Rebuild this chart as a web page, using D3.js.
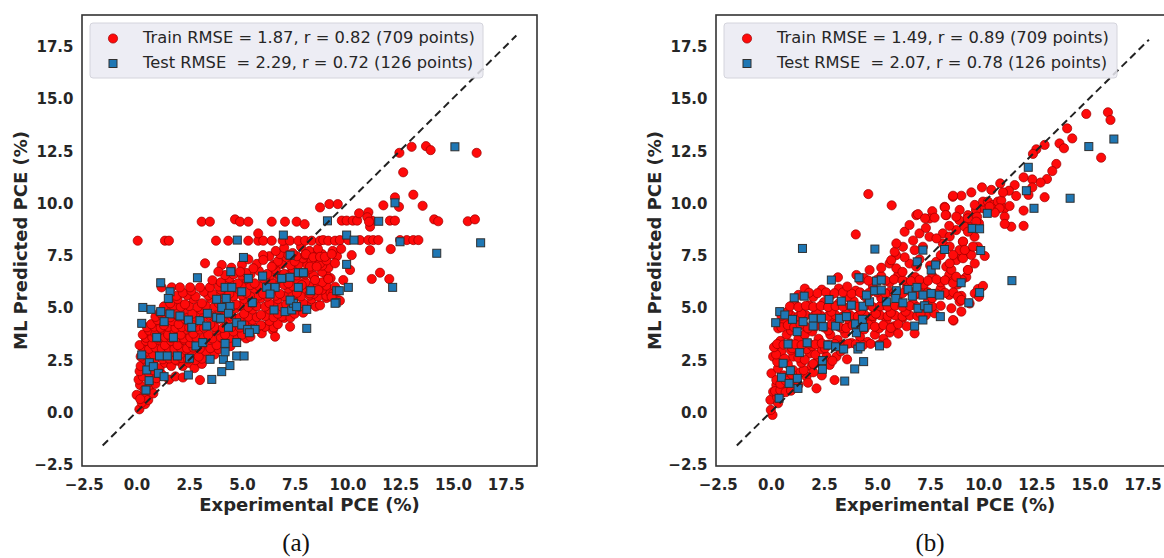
<!DOCTYPE html>
<html>
<head>
<meta charset="utf-8">
<script src="https://cdn.jsdelivr.net/npm/d3@7"></script>
<style>
  html, body { margin: 0; padding: 0; background: #fff; }
  svg { display: block; font-family: "DejaVu Sans", sans-serif; }
  .leg { white-space: pre; }
</style>
</head>
<body>
<svg id="fig" width="1164" height="558"></svg>
<script>
// Tick values shared by both axes of both panels
const ticks = [-2.5, 0, 2.5, 5, 7.5, 10, 12.5, 15, 17.5];
const axisDomain = [-2.58, 18.98];

// Ideal y = x reference segments
const diagA = [-1.6, 18.0];
const diagB = [-1.6, 17.8];

const legendA = ["Train RMSE = 1.87, r = 0.82 (709 points)", "Test RMSE  = 2.29, r = 0.72 (126 points)"];
const legendB = ["Train RMSE = 1.49, r = 0.89 (709 points)", "Test RMSE  = 2.07, r = 0.78 (126 points)"];

const xLabel = "Experimental PCE (%)";
const yLabel = "ML Predicted PCE (%)";
const captions = ["(a)", "(b)"];

// Model (a): [experimental, predicted]
const trainA = [
  [0.14,0.13],[0.41,0.38],[0.25,0.45],[0.01,0.82],[0.33,0.74],[0.56,0.58],[0.18,0.62],[0.70,0.95],
  [0.17,1.29],[0.56,1.13],[0.80,0.89],[0.38,1.05],[0.90,1.35],[0.10,1.55],[0.60,1.45],
  [0.30,1.70],[0.60,1.85],[0.95,1.62],[1.20,1.80],[1.55,1.55],[0.15,1.95],[0.80,2.00],[1.85,1.70],[3.01,1.53],[2.20,1.65],
  [0.20,2.20],[0.50,2.40],[0.80,2.30],[1.10,2.10],[1.35,2.35],[1.65,2.20],[1.95,2.45],[2.20,2.20],[2.50,2.35],[2.75,2.10],[3.10,2.30],
  [0.35,2.55],[0.65,2.50],[0.95,2.58],[1.25,2.52],[1.55,2.56],[1.85,2.50],[2.15,2.58],[2.45,2.52],[2.80,2.48],[3.10,2.55],
  [0.20,2.65],[0.45,2.90],[0.80,2.75],[1.10,2.95],[1.40,2.80],[1.75,2.95],[2.05,2.75],[2.35,2.95],[2.65,2.80],[2.95,2.65],[3.30,2.90],[3.70,2.75],
  [0.30,3.05],[0.60,3.02],[0.90,3.08],[1.20,3.03],[1.50,3.07],[1.80,3.02],[2.10,3.06],[2.40,3.04],[2.70,3.08],[3.00,3.03],[3.50,3.05],[3.90,3.00],
  [0.15,3.20],[0.45,3.40],[0.75,3.25],[1.05,3.45],[1.35,3.20],[1.65,3.40],[1.95,3.20],[2.25,3.45],[2.55,3.30],[3.45,3.45],[3.80,3.20],[4.10,3.50],[4.45,3.15],
  [0.45,3.55],[0.75,3.57],[1.05,3.53],[1.35,3.58],[1.65,3.54],[1.95,3.57],[2.25,3.52],[2.55,3.58],[2.85,3.54],[3.20,3.56],[3.60,3.52],[4.00,3.58],[4.40,3.54],[4.80,3.56],[5.20,3.52],
  [0.30,3.70],[0.60,3.90],[0.90,3.75],[1.20,3.95],[1.50,3.70],[1.80,3.90],[2.10,3.70],[2.40,3.95],[2.70,3.75],[3.00,3.95],[3.40,3.70],[3.80,3.90],[4.20,3.70],[4.60,3.85],[5.00,3.70],[5.40,3.60],[5.94,3.76],[6.46,3.92],[6.57,3.60],
  [0.50,4.05],[0.85,4.08],[1.15,4.03],[1.50,4.07],[1.85,4.02],[2.15,4.06],[2.50,4.04],[2.85,4.08],[3.20,4.03],[3.70,4.07],[4.10,4.02],[4.50,4.06],[4.90,4.04],[5.30,4.08],[5.70,4.03],[6.10,4.07],[6.50,4.04],
  [0.70,4.20],[1.00,4.40],[1.30,4.15],[1.70,4.35],[2.00,4.20],[2.30,4.45],[2.70,4.25],[3.50,4.20],[3.90,4.45],[4.30,4.20],[4.70,4.45],[5.10,4.20],[5.50,4.40],[5.90,4.15],[6.30,4.35],[6.70,4.20],[7.28,4.08],[7.00,4.50],
  [0.90,4.55],[1.25,4.58],[1.60,4.53],[2.00,4.57],[2.40,4.52],[2.80,4.56],[3.20,4.54],[3.65,4.58],[4.10,4.53],[4.50,4.57],[4.90,4.52],[5.30,4.56],[5.70,4.54],[6.10,4.58],[6.50,4.53],[6.90,4.57],[7.30,4.52],
  [1.10,4.75],[1.45,4.95],[1.85,4.70],[2.25,4.90],[2.65,4.70],[3.05,4.90],[3.45,4.65],[3.90,4.90],[4.30,4.70],[4.70,4.95],[5.10,4.70],[5.50,4.90],[5.90,4.65],[6.30,4.90],[6.70,4.70],[7.10,4.95],[7.50,4.70],[7.90,4.75],
  [1.30,5.05],[1.75,5.08],[2.10,5.03],[2.50,5.07],[2.90,5.02],[3.30,5.06],[3.70,5.04],[4.10,5.08],[4.50,5.03],[4.90,5.07],[5.30,5.02],[5.70,5.06],[6.10,5.04],[6.50,5.08],[6.90,5.03],[7.30,5.07],[7.70,5.02],[8.10,5.06],[8.50,5.04],
  [1.60,5.20],[1.95,5.40],[2.30,5.15],[2.70,5.40],[3.10,5.20],[3.50,5.45],[3.90,5.20],[4.30,5.40],[4.70,5.15],[5.10,5.40],[5.50,5.20],[5.90,5.45],[6.30,5.20],[6.70,5.40],[7.10,5.15],[7.50,5.45],[7.90,5.20],[8.30,5.40],[8.70,5.10],[9.00,5.45],
  [1.90,5.55],[2.40,5.58],[2.80,5.53],[3.40,5.57],[3.80,5.52],[4.20,5.56],[4.60,5.54],[5.00,5.58],[5.40,5.53],[5.80,5.57],[6.20,5.52],[6.60,5.56],[7.00,5.54],[7.40,5.58],[7.80,5.53],[8.20,5.57],[8.60,5.52],[9.00,5.56],
  [2.20,5.70],[2.60,5.80],[3.20,5.75],[3.60,5.65],[4.00,5.85],[4.40,5.65],[4.80,5.90],[5.20,5.70],[5.60,5.90],[6.00,5.65],[6.40,5.85],[6.80,5.65],[7.20,5.90],[7.60,5.70],[8.00,5.90],[8.40,5.65],[8.80,5.85],[9.20,5.70],
  [1.19,5.96],[1.67,5.96],[2.06,5.96],[2.54,5.96],[3.01,5.96],[3.48,5.96],[3.90,6.00],
  [4.20,6.05],[4.60,6.08],[5.00,6.03],[5.40,6.07],[5.80,6.02],[6.20,6.06],[6.60,6.04],[7.00,6.08],[7.40,6.03],[7.80,6.07],[8.20,6.02],[8.60,6.06],[9.00,6.04],
  [3.60,6.30],[4.00,6.20],[4.40,6.40],[4.80,6.15],[5.20,6.35],[5.60,6.15],[6.00,6.40],[6.40,6.20],[6.80,6.40],[7.20,6.15],[7.60,6.35],[8.00,6.20],[8.40,6.45],[8.80,6.20],[9.20,6.40],
  [4.20,6.55],[4.60,6.58],[5.00,6.53],[5.40,6.57],[6.00,6.52],[6.40,6.56],[6.80,6.54],[7.20,6.58],[7.60,6.53],[8.00,6.57],[8.40,6.52],[9.00,6.56],
  [4.50,6.90],[5.20,6.65],[5.80,6.75],[6.20,6.60],[6.60,6.80],[7.00,6.60],[7.40,6.85],[7.80,6.65],[8.20,6.85],[8.80,6.70],[9.10,6.90],
  [5.00,7.05],[5.70,7.08],[6.50,7.03],[6.90,7.07],[7.30,7.02],[7.70,7.06],[8.10,7.04],[8.50,7.08],[8.80,7.00],
  [5.30,7.30],[6.30,7.45],[6.70,7.20],[7.10,7.40],[7.50,7.20],[7.90,7.35],[8.30,7.20],[8.70,7.10],[9.00,7.25],
  [6.00,7.50],[6.80,7.55],[7.20,7.50],[7.60,7.45],[8.00,7.52],[8.40,7.48],[8.80,7.55],[9.50,7.45],
  [6.60,7.70],[7.00,7.85],[7.40,7.60],[7.80,7.90],[8.20,7.70],[8.60,7.80],[9.30,7.70],[9.70,7.80],
  [3.25,7.11],[4.04,7.03],[3.88,6.71],[4.91,6.71],[5.54,6.87],[6.01,7.27],[6.41,6.95],
  [10.20,7.50],[11.07,7.74],[12.05,7.79],[11.15,6.36],[11.54,6.66],[11.98,6.36],[9.41,7.11],[10.12,6.79],[9.80,6.31],[9.09,6.36],
  [8.03,7.55],[8.38,7.40],[8.70,7.42],[8.93,7.42],[9.25,7.55],[8.22,6.95],[8.54,6.95],[7.94,6.63],[8.46,6.31],[7.83,6.07],[8.22,5.67],[8.62,5.83],[9.33,5.67],[9.56,5.35],[9.25,5.51],[9.64,5.32],[9.41,5.99],
  [0.06,8.19],[1.35,8.19],[1.54,8.19],[3.77,8.19],[4.35,8.19],[5.30,8.19],[5.77,8.19],[6.01,8.19],[6.41,8.19],[6.93,8.19],[7.27,8.19],[7.67,8.19],[7.99,8.19],[8.30,8.19],[8.70,8.19],[8.85,8.22],[9.09,8.19],[9.41,8.19],[9.64,8.22],[10.04,8.22],[10.59,8.22],[10.99,8.22],[11.22,8.22],[11.46,8.22],[12.49,8.22],[12.81,8.22],[13.12,8.22],[13.36,8.22],[5.77,8.54],
  [3.09,9.10],[3.48,9.10],[4.67,9.21],[4.91,9.10],[5.30,9.10],[6.41,9.10],[7.04,9.10],[7.59,9.10],[7.97,8.98],
  [9.73,9.15],[9.96,9.15],[10.25,9.15],[10.46,9.15],[11.15,9.15],[12.01,9.15],[12.25,9.15],
  [8.70,9.78],[9.14,9.94],[9.54,9.94],
  [10.55,9.50],[10.99,9.55],[10.94,9.31],[11.07,8.86],[11.02,9.10],
  [14.11,9.21],[14.30,9.12],[15.70,9.12],[16.04,9.21],
  [11.70,9.88],[12.44,9.81],[13.56,9.86],[12.25,10.26],[13.12,10.39],[12.64,11.46],
  [12.46,12.39],[13.04,12.68],[13.72,12.71],[13.94,12.52],[16.12,12.39]
];

const testA = [
  [1.15,6.18],[1.59,5.75],[1.51,5.43],[2.89,6.42],[0.30,5.00],[0.69,4.91],[0.25,4.24],[1.15,4.80],[1.59,4.69],[2.06,4.59],
  [1.31,4.32],[2.46,4.40],[2.62,4.05],[3.01,4.37],[3.33,4.11],[0.96,3.57],[1.75,3.57],[2.82,3.16],[3.14,3.32],[0.25,2.73],
  [0.61,2.36],[1.09,2.68],[1.46,2.68],[1.94,2.68],[2.51,2.57],[0.49,2.01],[0.80,2.17],[1.04,1.85],[1.31,1.69],[2.46,1.77],
  [0.60,1.50],[0.45,1.05],[3.57,1.56],[3.49,2.52],[4.04,1.93],[4.12,2.52],[4.20,2.88],[4.43,2.22],[4.75,2.68],[5.10,2.68],
  [4.20,3.28],[4.75,3.32],[3.80,5.39],[4.25,5.43],[4.43,5.04],[4.04,5.00],[3.80,4.53],[3.99,4.48],[4.36,4.72],[4.36,4.05],
  [4.75,4.27],[3.36,4.72],[4.20,5.96],[4.52,5.96],[4.99,5.75],[5.30,6.39],[4.47,6.71],[5.07,7.39],[4.78,8.22],[4.99,4.16],
  [5.27,3.95],[5.62,3.95],[5.35,3.79],[5.49,5.23],[5.98,6.50],[6.17,5.96],[6.57,5.96],[6.33,5.64],[6.52,4.88],[7.04,4.80],
  [7.36,4.88],[7.44,5.20],[7.28,5.35],[7.59,5.04],[6.88,6.39],[7.28,6.44],[6.96,8.46],[7.28,7.50],[7.67,6.66],[7.91,6.66],
  [7.67,5.96],[8.07,4.91],[8.07,4.00],[8.26,5.80],[9.05,9.14],[9.49,5.80],[9.46,5.23],
  [15.09,12.68],[12.25,10.00],[11.48,9.12],[9.96,8.46],[10.31,8.22],[12.49,8.14],[16.31,8.09],[14.23,7.59],[9.96,7.06],
  [10.04,5.96],[9.61,5.80],[12.14,5.96],[9.41,5.20]
];

// Model (b): [experimental, predicted]
const trainB = [
  [0.08,-0.14],[0.00,0.10],[-0.02,0.58],[0.34,0.42],[0.11,0.97],[0.50,0.90],[0.26,1.29],[0.66,1.21],[0.30,0.70],
  [0.20,1.00],[0.45,1.05],[0.70,0.95],[0.95,1.02],
  [0.03,1.85],[0.34,2.09],[1.05,2.01],[1.20,1.45],[1.68,1.69],[1.91,2.17],[0.26,1.53],[0.60,1.75],[0.85,1.60],[1.40,1.90],[2.15,1.13],[3.00,1.53],[2.40,1.75],
  [0.45,1.35],[0.70,1.50],[1.00,1.80],[1.30,1.30],[1.55,2.00],[1.75,1.40],[2.00,1.90],
  [0.11,2.65],[0.50,2.89],[1.05,2.65],[1.44,2.36],[1.83,2.80],[2.22,2.49],[2.62,2.65],[1.68,3.00],[2.77,2.25],[3.09,2.65],[3.59,2.52],[0.30,2.40],[0.80,2.30],[1.25,2.95],[2.00,2.30],
  [0.25,2.75],[0.65,2.55],[0.95,2.95],[1.30,2.60],[1.60,2.50],[2.10,2.75],[2.40,3.00],[2.90,2.45],[3.30,2.90],
  [0.15,3.10],[0.45,3.40],[0.75,3.70],[1.00,3.05],[1.30,3.50],[1.60,3.70],[1.95,3.15],[2.25,3.50],[2.55,3.05],[2.80,3.70],[3.15,3.45],[3.50,3.75],[3.80,3.30],[4.20,3.60],[4.55,3.35],[4.90,3.70],[5.30,3.50],[5.60,3.80],
  [0.30,3.25],[0.60,3.22],[0.90,3.28],[1.15,3.24],[1.45,3.20],[1.80,3.27],[2.10,3.23],[2.40,3.28],[2.70,3.22],[3.00,3.26],[3.35,3.21],[3.65,3.27],[4.00,3.24],[4.35,3.20],[4.70,3.26],[5.10,3.22],[5.45,3.28],
  [0.35,4.00],[0.65,4.30],[0.95,3.90],[1.25,4.50],[1.60,4.10],[1.95,3.85],[2.30,4.25],[2.70,3.90],[3.00,4.50],[3.35,4.00],[3.70,4.35],[4.05,4.55],[4.40,3.95],[4.75,4.45],[5.10,4.00],[5.45,4.40],[5.80,4.10],[6.20,4.50],[6.00,3.75],[6.77,3.76],
  [0.50,4.05],[0.80,4.15],[1.10,4.05],[1.40,4.20],[1.75,4.00],[2.10,4.10],[2.50,4.05],[2.85,4.18],[3.20,4.08],[3.55,4.02],[3.85,4.15],[4.20,4.05],[4.60,4.18],[4.90,4.08],[5.30,4.15],[5.65,4.02],[6.00,4.20],[6.40,4.10],
  [0.50,4.60],[0.95,4.62],[1.30,4.58],[1.65,4.63],[2.00,4.57],[2.35,4.61],[2.70,4.59],[3.05,4.63],[3.40,4.58],[3.75,4.62],[4.10,4.57],[4.45,4.61],[4.80,4.59],[5.15,4.63],[5.50,4.58],[5.85,4.62],[6.20,4.57],[6.55,4.61],[6.90,4.59],[7.30,4.63],
  [0.80,4.80],[1.10,5.20],[1.45,4.70],[1.80,5.10],[2.15,4.75],[2.50,5.25],[2.85,4.80],[3.20,5.20],[3.55,4.70],[3.90,5.30],[4.25,4.85],[4.60,5.25],[4.95,4.70],[5.30,5.10],[5.65,4.75],[6.00,5.25],[6.35,4.80],[6.70,5.20],[7.05,4.70],[7.40,5.30],[7.71,4.72],[8.60,4.37],
  [0.90,5.05],[1.30,5.02],[1.65,5.08],[2.00,5.03],[2.35,5.07],[2.70,5.02],[3.05,5.06],[3.40,5.04],[3.75,5.08],[4.10,5.03],[4.45,5.07],[4.80,5.02],[5.15,5.06],[5.50,5.04],[5.85,5.08],[6.20,5.03],[6.55,5.07],[6.90,5.02],[7.25,5.06],[7.60,5.04],[8.00,5.08],
  [1.30,5.60],[1.60,5.90],[2.00,5.50],[2.40,5.85],[2.80,5.55],[3.20,5.90],[3.60,5.50],[4.00,5.80],[4.40,5.55],[4.80,5.90],[5.20,5.45],[5.60,5.75],[6.00,5.55],[6.40,5.95],[6.80,5.60],[7.20,5.85],[7.60,5.45],[8.00,5.90],[8.40,5.60],
  [1.80,5.70],[2.20,5.68],[2.60,5.72],[3.00,5.68],[3.40,5.72],[3.80,5.66],[4.20,5.72],[4.60,5.68],[5.00,5.72],[5.40,5.66],[5.80,5.70],[6.20,5.68],[6.60,5.74],[7.00,5.68],[7.40,5.72],[7.80,5.66],[8.20,5.70],[8.60,5.72],
  [3.16,6.44],[3.60,6.00],[4.03,6.55],[4.40,6.40],[4.80,6.10],[5.20,6.50],[5.60,6.20],[6.00,6.55],[6.40,6.20],[6.80,6.45],[7.20,6.10],[7.60,6.50],[8.00,6.20],[8.40,6.55],[8.80,6.10],[9.20,6.45],
  [4.20,6.30],[4.60,6.28],[5.00,6.32],[5.40,6.28],[5.80,6.34],[6.20,6.30],[6.60,6.26],[7.00,6.32],[7.40,6.28],[7.80,6.34],[8.20,6.30],[8.60,6.28],[9.00,6.32],
  [4.65,6.79],[5.59,7.10],[5.91,6.87],[6.53,7.10],[6.85,6.95],[7.79,7.18],[8.26,6.95],[8.73,7.26],[9.28,6.79],
  [5.20,6.90],[6.20,6.70],[7.00,7.30],[7.50,7.00],[8.00,7.50],[8.50,6.80],[9.00,7.40],[9.60,7.10],[6.30,7.40],[5.90,7.50],
  [5.67,7.26],[5.83,7.66],[6.22,7.90],[6.77,7.74],[7.16,7.90],[8.10,8.06],[8.88,7.74],[9.36,7.58],[9.75,7.90],
  [5.91,8.06],[6.30,8.62],[7.00,8.54],[7.47,8.38],[8.10,8.54],[8.73,8.70],[9.04,8.14],[9.59,8.38],
  [6.70,8.20],[7.30,8.80],[7.80,8.30],[8.40,8.90],[9.30,8.90],[7.60,9.60],
  [6.53,8.94],[6.85,9.41],[7.47,9.25],[8.18,9.81],[8.26,9.41],[8.88,9.17],[9.28,9.41],[9.67,9.65],
  [4.00,8.49],[4.59,10.42],[5.69,9.88],[6.93,9.46],[7.26,9.26],[7.71,9.29],[8.20,9.78],[8.57,10.29],[8.23,9.42],
  [8.88,5.51],[9.36,5.19],[9.75,5.88],[9.60,5.67],[9.80,5.51],[8.97,5.55],[8.89,5.28],[8.97,4.80],[8.50,4.96],[8.58,4.40],
  [8.81,5.52],[8.97,5.36],[8.58,6.16],[8.73,6.47],[9.99,6.03],[9.28,6.79],[8.42,7.11],[9.05,7.35],[9.44,7.51],[10.07,7.46],
  [8.42,8.39],[8.42,7.91],[8.58,7.51],[9.05,8.15],[9.13,7.75],[9.52,7.91],
  [8.89,9.66],[9.28,9.26],[8.73,9.34],[9.13,8.86],[9.28,8.62],[9.80,9.02],
  [9.99,9.74],[9.67,9.66],[9.60,9.90],[9.71,9.34],[9.67,9.10],
  [9.99,10.06],[10.22,10.06],[10.46,9.90],[10.69,10.06],[10.85,10.11],[11.01,9.74],[11.24,9.85],[11.01,9.34],[11.32,8.86],[11.01,8.99],[10.77,9.74],[10.54,9.53],[10.30,9.82],
  [11.48,10.85],[11.21,10.58],[10.80,10.93],[10.93,10.50],[10.38,10.62],[9.94,10.74],[9.44,10.50],[8.97,10.34],[8.58,10.34],
  [13.44,11.86],[13.25,11.52],[13.00,11.14],[12.70,10.97],[12.31,11.12],[12.31,10.74],[11.90,11.22],[12.13,10.38],[11.55,10.33],
  [12.89,10.27],[11.90,9.63],[11.90,8.90],
  [12.89,12.77],[12.50,12.56],[12.34,12.34],[13.59,12.84],[13.80,12.61],[15.55,12.16],
  [13.95,13.56],[14.19,13.08],[14.85,14.25],[15.87,14.33],[15.99,13.96]
];

const testB = [
  [1.49,7.82],[4.90,7.79],[2.85,6.31],[4.15,6.42],[4.97,6.26],[5.20,6.31],[1.10,5.46],[1.57,5.54],[2.74,5.38],[3.32,5.30],
  [3.79,5.11],[0.42,4.80],[0.66,4.64],[0.23,4.27],[1.02,4.43],[1.24,3.84],[1.52,4.32],[1.99,4.48],[2.38,4.48],[2.46,4.08],
  [1.99,4.11],[3.05,4.11],[3.24,4.48],[3.56,4.56],[3.99,4.21],[4.03,3.79],[4.37,4.05],[4.31,4.43],[4.34,5.06],[4.65,5.27],
  [4.50,5.59],[4.89,5.80],[5.20,5.83],[0.81,3.25],[1.71,3.31],[1.36,2.84],[2.69,3.20],[3.05,3.12],[3.43,3.01],[4.10,3.01],
  [4.21,3.12],[5.12,3.16],[0.58,2.33],[0.92,1.98],[0.50,1.66],[1.25,1.61],[0.86,1.37],[1.28,1.13],[2.43,2.46],[2.43,2.04],
  [3.48,1.48],[3.95,2.06],[4.37,2.41],[0.39,0.66],[5.44,5.27],[5.91,5.80],[5.88,5.43],[6.22,5.22],[6.46,5.86],[6.66,5.54],
  [6.77,4.11],[6.88,5.96],[7.16,5.59],[7.16,4.40],[6.93,4.96],[7.24,5.08],[7.55,5.67],[7.95,5.59],[7.98,4.56],[7.40,4.96],
  [7.16,7.74],[6.89,7.18],[7.55,6.79],[7.76,7.03],[8.18,7.77],[8.96,6.18],[9.32,5.22],[9.48,8.78],[9.83,8.76],[9.88,7.72],
  [9.83,5.71],[11.35,6.28],[10.19,9.50],[12.39,9.74],[12.03,10.58],[12.12,11.70],[14.09,10.22],[14.97,12.69],[16.15,13.05]
];

const svg = d3.select("#fig");
const ink = "#262626";
const plotTop = 15, plotBottom = 466;

const panels = [
  { left: 82,  right: 537,  train: trainA, test: testA, diag: diagA, legend: legendA, caption: captions[0], capX: 296, yLabelX: 26.5 },
  { left: 716, right: 1174, train: trainB, test: testB, diag: diagB, legend: legendB, caption: captions[1], capX: 930, yLabelX: 660.5 }
];

panels.forEach((p, i) => {
  const g = svg.append("g").attr("class", "panel-" + i);
  const x = d3.scaleLinear().domain(axisDomain).range([p.left, p.right]);
  const y = d3.scaleLinear().domain(axisDomain).range([plotBottom, plotTop]);

  const clipId = "clip" + i;
  g.append("clipPath").attr("id", clipId)
    .append("rect")
    .attr("x", p.left).attr("y", plotTop)
    .attr("width", p.right - p.left).attr("height", plotBottom - plotTop);

  const plot = g.append("g").attr("clip-path", `url(#${clipId})`);

  // training points
  plot.append("g").selectAll("circle").data(p.train).join("circle")
    .attr("cx", d => x(d[0]))
    .attr("cy", d => y(d[1]))
    .attr("r", 4.6)
    .attr("fill", "#ff0a0a")
    .attr("stroke", "#9a0000")
    .attr("stroke-width", 0.7);

  // test points
  const s = 8;
  plot.append("g").selectAll("rect").data(p.test).join("rect")
    .attr("x", d => x(d[0]) - s / 2)
    .attr("y", d => y(d[1]) - s / 2)
    .attr("width", s).attr("height", s)
    .attr("fill", "#1f77b4")
    .attr("stroke", "#303030")
    .attr("stroke-width", 1);

  // y = x guide
  plot.append("line")
    .attr("x1", x(p.diag[0])).attr("y1", y(p.diag[0]))
    .attr("x2", x(p.diag[1])).attr("y2", y(p.diag[1]))
    .attr("stroke", "#222")
    .attr("stroke-width", 2)
    .attr("stroke-dasharray", "7.5,4.5");

  // legend
  const lx = p.left + 8, ly = 23;
  const lg = g.append("g");
  lg.append("rect")
    .attr("x", lx).attr("y", ly)
    .attr("width", 393).attr("height", 55)
    .attr("rx", 3).attr("ry", 3)
    .attr("fill", "#eaeaf2").attr("fill-opacity", 0.85)
    .attr("stroke", "#d4d4dc").attr("stroke-width", 1);
  lg.append("circle")
    .attr("cx", lx + 23).attr("cy", ly + 15.5).attr("r", 4.6)
    .attr("fill", "#ff0a0a").attr("stroke", "#9a0000").attr("stroke-width", 0.7);
  lg.append("rect")
    .attr("x", lx + 23 - 4).attr("y", ly + 40.5 - 4).attr("width", 8).attr("height", 8)
    .attr("fill", "#1f77b4").attr("stroke", "#303030").attr("stroke-width", 1);
  lg.selectAll("text").data(p.legend).join("text")
    .attr("class", "leg")
    .attr("x", lx + 53)
    .attr("y", (d, k) => ly + 20 + k * 25.3)
    .attr("font-size", 16.3)
    .attr("fill", ink)
    .text(d => d);

  // frame
  g.append("rect")
    .attr("x", p.left).attr("y", plotTop)
    .attr("width", p.right - p.left).attr("height", plotBottom - plotTop)
    .attr("fill", "none")
    .attr("stroke", "#333")
    .attr("stroke-width", 1.6);

  // axes
  const fmt = d3.format(".1f");
  const xa = g.append("g")
    .attr("transform", `translate(0,${plotBottom})`)
    .call(d3.axisBottom(x).tickValues(ticks).tickFormat(fmt).tickSize(0));
  xa.select(".domain").remove();
  xa.selectAll("text")
    .attr("y", 23.5).attr("dy", null)
    .attr("font-family", "DejaVu Sans").attr("font-size", 15).attr("font-weight", "bold")
    .attr("fill", ink);

  const ya = g.append("g")
    .attr("transform", `translate(${p.left},0)`)
    .call(d3.axisLeft(y).tickValues(ticks).tickFormat(fmt).tickSize(0));
  ya.select(".domain").remove();
  ya.selectAll("text")
    .attr("x", -8.5).attr("dy", null).attr("y", 5.5)
    .attr("font-family", "DejaVu Sans").attr("font-size", 15).attr("font-weight", "bold")
    .attr("fill", ink);

  // axis titles
  g.append("text")
    .attr("x", (p.left + p.right) / 2).attr("y", 511)
    .attr("text-anchor", "middle")
    .attr("font-size", 18).attr("font-weight", "bold").attr("fill", ink)
    .text(xLabel);
  g.append("text")
    .attr("transform", `translate(${p.yLabelX},${(plotTop + plotBottom) / 2}) rotate(-90)`)
    .attr("text-anchor", "middle")
    .attr("font-size", 18).attr("font-weight", "bold").attr("fill", ink)
    .text(yLabel);

  // sub-figure caption
  g.append("text")
    .attr("x", p.capX).attr("y", 551)
    .attr("text-anchor", "middle")
    .attr("font-family", "Liberation Serif, serif")
    .attr("font-size", 25)
    .attr("fill", "#111")
    .text(p.caption);
});
</script>
</body>
</html>
